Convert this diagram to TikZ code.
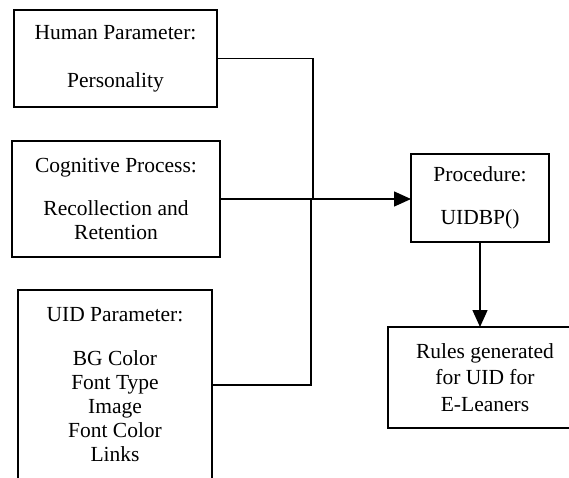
\documentclass[tikz,border=0pt]{standalone}
\usepackage{fontspec}
\setmainfont{Liberation Serif}
\usetikzlibrary{arrows.meta}
\begin{document}
\begin{tikzpicture}[x=1pt,y=-1pt,
  box/.style={draw,line width=1.4pt,inner sep=0pt,outer sep=0pt,align=center,
              font=\fontsize{21.5}{24.2}\selectfont},
  conn/.style={line width=1.4pt},
  arr/.style={conn,-{Triangle[length=17pt,width=15pt]}}]
\useasboundingbox (0,0) rectangle (569,477);
\clip (0,0) rectangle (569,477);
\node[box,minimum width=203pt,minimum height=97pt] (hp) at (115.5,58.5)
  {Human Parameter:\\[24pt]Personality};
\node[box,minimum width=208pt,minimum height=116pt] (cp) at (116,199)
  {Cognitive Process:\\[19pt]Recollection and\\Retention};
\node[box,minimum width=194pt,minimum height=190pt] (ui) at (115,385)
  {UID Parameter:\\[19pt]BG Color\\Font Type\\Image\\Font Color\\Links};
\node[box,minimum width=138pt,minimum height=88pt] (pr) at (480,198)
  {Procedure:\\[19pt]UIDBP()};
\node[box,minimum width=194pt,minimum height=101pt,
      font=\fontsize{21.5}{26.5}\selectfont] (ru) at (485,377.5)
  {Rules generated\\for UID for\\E-Leaners};
\coordinate (j1) at (313,199);
\coordinate (j2) at (311,199);
\draw[conn] (hp.east) -| (j1);
\draw[conn] (ui.east) -| (j2);
\draw[arr] (cp.east) -- (cp.east -| pr.west);
\draw[arr] (pr.south) -- (pr.south |- ru.north);
\end{tikzpicture}
\end{document}
